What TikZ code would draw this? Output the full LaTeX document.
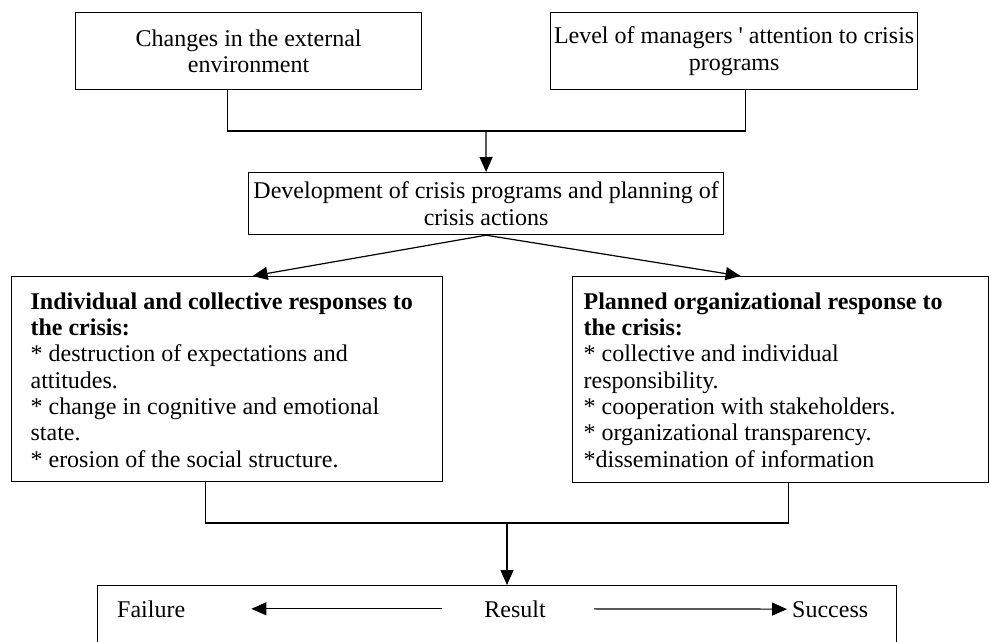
\documentclass[tikz,border=0pt]{standalone}
\usepackage{fontspec}
\setmainfont{Liberation Serif}
\usetikzlibrary{arrows.meta}
\tikzstyle{box} = [rectangle, draw, line width=1.2pt, align=center, inner sep=0pt, anchor=north west]
\tikzstyle{respbox} = [rectangle, draw, line width=1.2pt, inner ysep=16pt, anchor=north west]
\tikzstyle{outtext} = [inner sep=0pt]
\tikzstyle{link} = [line width=1.2pt]
\tikzstyle{arrow} = [line width=1.2pt, -{Triangle[length=15pt,width=13pt]}]

\begin{document}
\begin{tikzpicture}[x=1pt, y=-1pt, font=\fontsize{24}{26.3}\selectfont]
\useasboundingbox (0,0) rectangle (991,641);

\node (ext) [box, minimum width=346pt, minimum height=77pt] at (75,12) {Changes in the external\\ environment};
\node (lvl) [box, minimum width=367pt, minimum height=77pt] at (550,12) {Level of managers \textquotesingle{} attention to crisis\\ programs};
\node (dev) [box, minimum width=475pt, minimum height=62pt] at (248,172) {Development of crisis programs and planning of\\ crisis actions};

% {*} so that \\ does not take the star
\node (indiv) [respbox, inner xsep=19pt] at (11,276) {\parbox[t][173pt][t]{393pt}{\raggedright
{\bfseries Individual and collective responses to\\ the crisis:}\\
{*} destruction of expectations and\\ attitudes.\\
{*} change in cognitive and emotional\\ state.\\
{*} erosion of the social structure.}};
\node (plan) [respbox, inner xsep=11pt] at (572,276) {\parbox[t][174pt][t]{394pt}{\raggedright
{\bfseries Planned organizational response to\\ the crisis:}\\
{*} collective and individual\\ responsibility.\\
{*} cooperation with stakeholders.\\
{*} organizational transparency.\\
{*}dissemination of information}};

% result box runs off the bottom edge
\node (outcome) [box, minimum width=799pt, minimum height=80pt] at (97,585) {};
\node (fail) [outtext, anchor=base west] at (117,617) {Failure};
\node (res) [outtext, anchor=base] at (515,617) {Result};
\node (succ) [outtext, anchor=base west] at (792,617) {Success};

\coordinate (jt) at (486,131);
\coordinate (jb) at (507,523);

\draw [link] ([xshift=-21pt]ext.south) |- (jt) -| ([xshift=11.5pt]lvl.south);
\draw [arrow] (jt) -- (dev.north);
\draw [arrow] (dev.south) -- ([xshift=25.5pt]indiv.north);
\draw [arrow] (dev.south) -- ([xshift=-40pt]plan.north);
\draw [link] ([xshift=-21.5pt]indiv.south) |- (jb) -| ([xshift=8pt]plan.south);
\draw [arrow] (jb) -- (jb |- outcome.north);
\draw [arrow, shorten <=42pt, shorten >=66pt] (res) -- (fail);
\draw [arrow, shorten <=48pt, shorten >=5pt] (res) -- (succ);
\end{tikzpicture}
\end{document}
